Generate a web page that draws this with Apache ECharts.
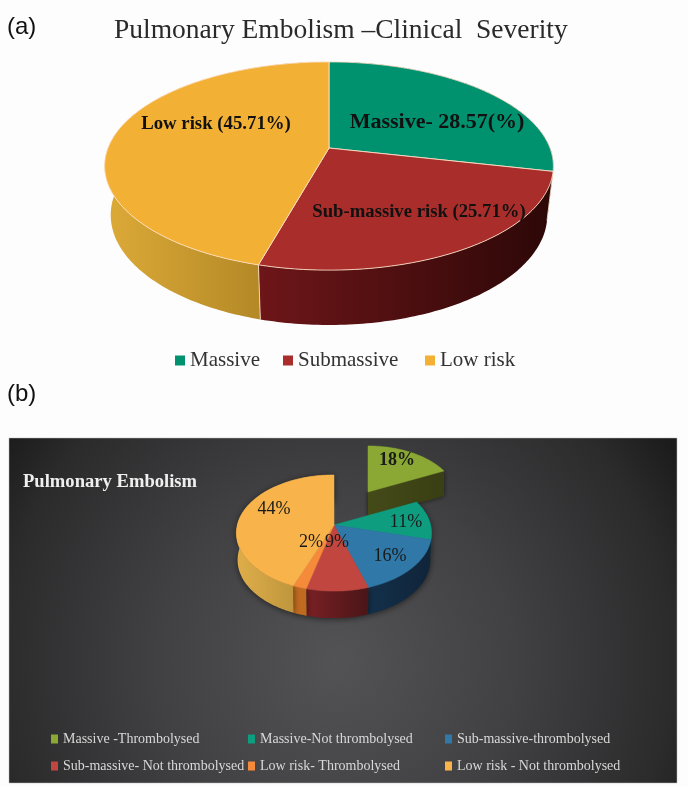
<!DOCTYPE html>
<html><head><meta charset="utf-8">
<style>html,body{margin:0;padding:0;background:#fdfdfd}#c{width:688px;height:787px}</style>
<script src="https://cdn.jsdelivr.net/npm/echarts@6/dist/echarts.min.js"></script>
</head><body><div id="c"></div>
<script>
// ---------- data ----------
var severityNames = ['Massive', 'Submassive', 'Low risk'];
var severityValues = [28.57, 25.71, 45.71];
var severityLabels = ['Massive- 28.57(%)', 'Sub-massive risk (25.71%)', 'Low risk (45.71%)'];
var embolismNames = ['Massive -Thrombolysed', 'Massive-Not thrombolysed', 'Sub-massive-thrombolysed', 'Sub-massive- Not thrombolysed', 'Low risk- Thrombolysed', 'Low risk - Not thrombolysed'];
var embolismValues = [18, 11, 16, 9, 2, 44];
var embolismLabels = ['18%', '11%', '16%', '9%', '2%', '44%'];

// ---------- styles ----------
var SERIF = '"Liberation Serif", serif';
var severityTop = ['#00916f', '#a92e2b', '#f2b035'];
var severityWall = [['#005a45', '#004535'], ['#6e1619', '#2c0707'], ['#dcaa38', '#a27a1e']];
var severityFonts = ['bold 22px ' + SERIF, 'bold 18.7px ' + SERIF, 'bold 18.8px ' + SERIF];
var severityLabelOffset = [[108, -26], [90, 64], [-113, -24]];
var embolismTop = ['#8aa833', '#0f9d80', '#2f78a8', '#c0463f', '#f58a3b', '#f8b34a'];
var embolismWall = [['#444a18', '#3a3f14'], ['#08463a', '#08463a'], ['#13304a', '#10243a'], ['#7a2024', '#4a1518'], ['#c06a20', '#c06a20'], ['#dfae4a', '#a88534']];
var embolismLabelOffset = [[63, -65], [72, -3], [56, 31], [3, 17], [-23, 17], [-60, -16]];

var pieA = {values: severityValues, names: severityNames, labels: severityLabels, top: severityTop, wall: severityWall,
  fonts: severityFonts, offsets: severityLabelOffset, cx: 329, cy: 148, k: 0.173, A: 101, B: 221, baseY: 196, baseA: 106.7, baseB: 215,
  stroke: 'rgba(255,225,200,0.85)', labelColor: '#111'};
var pieB = {values: embolismValues, names: embolismNames, labels: embolismLabels, top: embolismTop, wall: embolismWall,
  fonts: null, offsets: embolismLabelOffset, cx: 334, cy: 525, k: 0.138, A: 57, B: 96.7, baseY: 552, baseA: 57, baseB: 95.5,
  stroke: null, labelColor: '#1a1a1a', explode: {index: 0, dx: 34, dy: -33, scale: 0.92, depth: 25}};

function project(p, deg, layer) {
  var t = deg * Math.PI / 180, u = Math.sin(t), v = Math.cos(t), w = 1 + p.k * v;
  var base = layer === 'base';
  return [p.cx + (base ? p.baseB : p.B) * u / w, (base ? p.baseY : p.cy) - (base ? p.baseA : p.A) * v / w];
}

function makeSeries(p, i) {
  var start = 0, total = 0;
  p.values.forEach(function (v, j) { total += v; if (j < i) start += v; });
  return {
    type: 'custom', name: p.names[i], coordinateSystem: 'none', silent: true,
    itemStyle: {color: p.top[i]},
    data: [[p.values[i], start, total]],
    renderItem: function (params, api) {
      var a0 = api.value(1) / api.value(2) * 360;
      var a1 = a0 + api.value(0) / api.value(2) * 360;
      var ex = p.explode && p.explode.index === i ? p.explode : null;
      var tr = function (pt) {
        if (!ex) return pt;
        return [p.cx + ex.dx + (pt[0] - p.cx) * ex.scale, p.cy + ex.dy + (pt[1] - p.cy) * ex.scale];
      };
      var topArc = [], baseArc = [], n = Math.max(6, Math.ceil(a1 - a0));
      for (var s = 0; s <= n; s++) {
        var d = a0 + (a1 - a0) * s / n;
        topArc.push(tr(project(p, d, 'top')));
        baseArc.push(project(p, d, 'base'));
      }
      var apex = tr([p.cx, p.cy]);
      var z = ex ? -5 : 0;
      var kids = [];
      var wallFill = new echarts.graphic.LinearGradient(0, 0, 1, 0, [{offset: 0, color: p.wall[i][0]}, {offset: 1, color: p.wall[i][1]}]);
      if (ex) {
        var corner = topArc[topArc.length - 1];
        kids.push({type: 'polygon', z2: z + 1, shape: {points: [apex, corner, [corner[0], corner[1] + ex.depth], [apex[0], apex[1] + ex.depth]]},
          style: {fill: wallFill, shadowBlur: 5, shadowColor: 'rgba(0,0,0,0.6)'}});
      } else {
        kids.push({type: 'polygon', z2: z + 2, shape: {points: topArc.concat(baseArc.slice().reverse())},
          style: p.stroke ? {fill: wallFill} : {fill: wallFill, shadowBlur: 6, shadowOffsetY: 1, shadowColor: 'rgba(0,0,0,0.55)'}});
        if (p.stroke) {
          kids.push({type: 'line', z2: z + 3, shape: {x1: topArc[0][0], y1: topArc[0][1], x2: baseArc[0][0], y2: baseArc[0][1]},
            style: {stroke: p.stroke, lineWidth: 1}});
        }
      }
      kids.push({type: 'polygon', z2: 20, shape: {points: [apex].concat(topArc)},
        style: {fill: p.top[i], stroke: p.stroke || p.top[i], lineWidth: p.stroke ? 1 : 0.5}});
      var off = p.offsets[i];
      kids.push({type: 'text', z2: 40, style: {x: p.cx + off[0], y: p.cy + off[1], text: p.labels[i], fill: p.labelColor,
        font: p.fonts ? p.fonts[i] : (ex ? 'bold ' : '') + '18px ' + SERIF, align: 'center', verticalAlign: 'middle'}});
      return {type: 'group', children: kids};
    }
  };
}

function legendOf(names, left, top, size, gapV, color, w, h) {
  return {show: true, data: names, left: left, top: top, orient: 'vertical', itemGap: gapV, itemWidth: w, itemHeight: h,
    icon: 'rect', selectedMode: false, padding: 0, textStyle: {fontFamily: SERIF, fontSize: size, color: color}};
}
function caption(text, left, top, font, size, color, weight) {
  return {text: text, left: left, top: top, padding: 0, textStyle: {fontFamily: font, fontSize: size, color: color, fontWeight: weight || 'normal'}};
}

var series = [];
severityValues.forEach(function (v, i) { series.push(makeSeries(pieA, i)); });
embolismValues.forEach(function (v, i) { series.push(makeSeries(pieB, i)); });

var chart = echarts.init(document.getElementById('c'), null, {renderer: 'canvas'});
chart.setOption({
  animation: false,
  backgroundColor: '#fdfdfd',
  title: [
    caption('(a)', 7, 15, '"Liberation Sans", sans-serif', 24, '#111'),
    caption('(b)', 7, 382, '"Liberation Sans", sans-serif', 24, '#111'),
    caption('Pulmonary Embolism \u2013Clinical  Severity', 114, 17, SERIF, 27.5, '#2a2a2a'),
    caption('Pulmonary Embolism', 23, 473, SERIF, 18.6, '#efefef', 'bold')
  ],
  legend: [
    legendOf([severityNames[0]], 175, 350, 21, 0, '#333', 10, 10),
    legendOf([severityNames[1]], 283, 350, 21, 0, '#333', 10, 10),
    legendOf([severityNames[2]], 425, 350, 21, 0, '#333', 10, 10),
    legendOf([embolismNames[0], embolismNames[3]], 51, 732, 14, 13, '#d8d8d8', 7, 9),
    legendOf([embolismNames[1], embolismNames[4]], 248, 732, 14, 13, '#d8d8d8', 7, 9),
    legendOf([embolismNames[2], embolismNames[5]], 445, 732, 14, 13, '#d8d8d8', 7, 9)
  ],
  graphic: {elements: [{type: 'rect', z: -10, silent: true, shape: {x: 9, y: 438, width: 668, height: 345},
    style: {stroke: '#bbb', lineWidth: 0.5, fill: new echarts.graphic.RadialGradient(0.49, 0.65, 1.15, [{offset: 0, color: '#535355'}, {offset: 0.45, color: '#414143'}, {offset: 0.85, color: '#2b2b2c'}, {offset: 1, color: '#1c1c1c'}])}}]},
  series: series
});
</script></body></html>
